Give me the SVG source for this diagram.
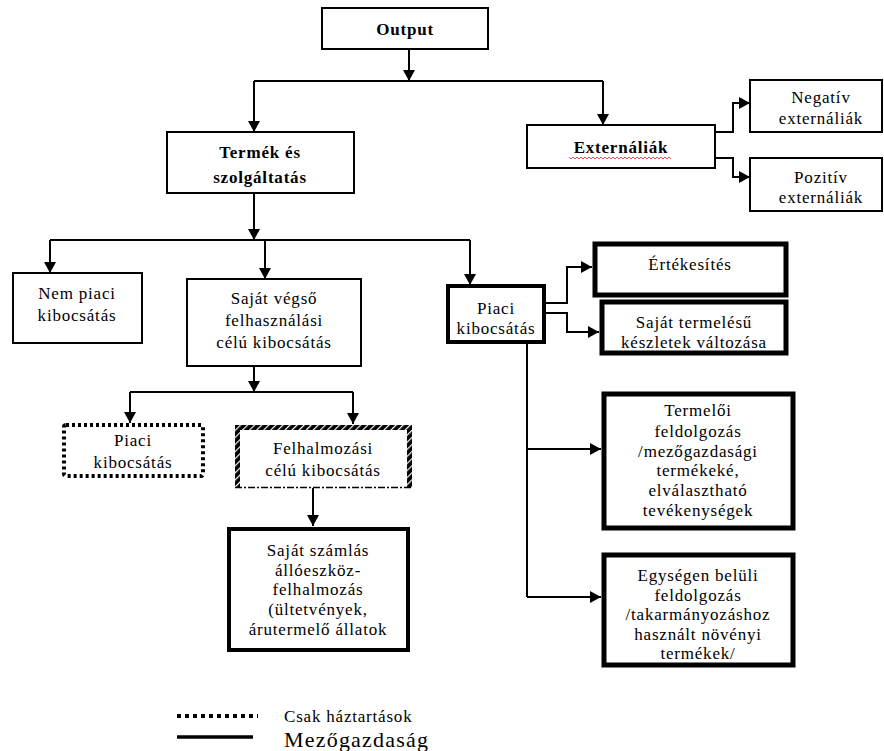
<svg xmlns="http://www.w3.org/2000/svg" width="884" height="751" viewBox="0 0 884 751">
<style>
  .box { fill: #fff; stroke: #000; stroke-width: 2; }
  .thick { fill: #fff; stroke: #000; stroke-width: 5; }
  .mid { fill: #fff; stroke: #000; stroke-width: 4; }
  .t { font-family: "Liberation Serif", "Times New Roman", serif; font-size: 17px; letter-spacing: 0.8px; fill: #000; text-anchor: middle; dominant-baseline: central; }
  .b { font-weight: bold; }
  .conn { fill: none; stroke: #000; stroke-width: 2; }
</style>
<defs>
  <marker id="arr" markerUnits="userSpaceOnUse" markerWidth="12" markerHeight="12" refX="11" refY="6" orient="auto">
    <path d="M0,0 L11,6 L0,12 z" fill="#000"/>
  </marker>
  <pattern id="hatch" patternUnits="userSpaceOnUse" width="5" height="5" patternTransform="rotate(45)">
    <rect width="5" height="5" fill="#000"/>
    <rect x="0" y="0" width="1.2" height="5" fill="#fff"/>
  </pattern>
</defs>
<rect width="884" height="751" fill="#fff"/>

<g id="connectors">
  <path class="conn" d="M409,49 V81" marker-end="url(#arr)"/>
  <path class="conn" d="M254,81 H603"/>
  <path class="conn" d="M254,81 V132" marker-end="url(#arr)"/>
  <path class="conn" d="M603,81 V125" marker-end="url(#arr)"/>
  <path class="conn" d="M715,132 H733 V103 H750" marker-end="url(#arr)"/>
  <path class="conn" d="M715,158 H733 V177 H750" marker-end="url(#arr)"/>
  <path class="conn" d="M254,193 V240" marker-end="url(#arr)"/>
  <path class="conn" d="M50,240 H470"/>
  <path class="conn" d="M50,240 V273" marker-end="url(#arr)"/>
  <path class="conn" d="M265,240 V279" marker-end="url(#arr)"/>
  <path class="conn" d="M470,240 V285" marker-end="url(#arr)"/>
  <path class="conn" d="M254,366 V392" marker-end="url(#arr)"/>
  <path class="conn" d="M130,392 H353"/>
  <path class="conn" d="M130,392 V423" marker-end="url(#arr)"/>
  <path class="conn" d="M353,392 V424" marker-end="url(#arr)"/>
  <path class="conn" d="M313,488 V526" marker-end="url(#arr)"/>
  <path class="conn" d="M545,303 H567 V267 H592" marker-end="url(#arr)"/>
  <path class="conn" d="M545,313 H567 V332 H599" marker-end="url(#arr)"/>
  <path class="conn" d="M527,343 V597"/>
  <path class="conn" d="M527,449 H601" marker-end="url(#arr)"/>
  <path class="conn" d="M527,597 H601" marker-end="url(#arr)"/>
</g>

<g id="output">
  <rect class="box" x="322" y="8" width="166" height="41"/>
  <text class="t b" x="405" y="29">Output</text>
</g>

<g id="termek">
  <rect class="box" x="167" y="132" width="187" height="61"/>
  <text class="t b" x="260" y="152">Termék és</text>
  <text class="t b" x="260" y="177">szolgáltatás</text>
</g>

<g id="externaliak">
  <rect class="box" x="527" y="125" width="188" height="43"/>
  <text class="t b" x="621" y="147">Externáliák</text>
  <path d="M569,157 l2,2 l2,-2 l2,2 l2,-2 l2,2 l2,-2 l2,2 l2,-2 l2,2 l2,-2 l2,2 l2,-2 l2,2 l2,-2 l2,2 l2,-2 l2,2 l2,-2 l2,2 l2,-2 l2,2 l2,-2 l2,2 l2,-2 l2,2 l2,-2 l2,2 l2,-2 l2,2 l2,-2 l2,2 l2,-2 l2,2 l2,-2 l2,2 l2,-2 l2,2 l2,-2 l2,2 l2,-2 l2,2 l2,-2 l2,2 l2,-2 l2,2 l2,-2 l2,2 l2,-2 l2,2 l2,-2 l2,2" fill="none" stroke="#d22" stroke-width="0.8"/>
</g>

<g id="negativ">
  <rect class="box" x="750" y="80" width="132" height="52"/>
  <text class="t" x="821" y="97">Negatív</text>
  <text class="t" x="821" y="118">externáliák</text>
</g>

<g id="pozitiv">
  <rect class="box" x="750" y="158" width="132" height="53"/>
  <text class="t" x="821" y="177">Pozitív</text>
  <text class="t" x="821" y="197">externáliák</text>
</g>

<g id="nem-piaci">
  <rect class="box" x="13" y="273" width="129" height="70"/>
  <text class="t" x="77" y="293">Nem piaci</text>
  <text class="t" x="77" y="315">kibocsátás</text>
</g>

<g id="sajat-vegso">
  <rect class="box" x="187" y="279" width="174" height="87"/>
  <text class="t" x="274" y="298">Saját végső</text>
  <text class="t" x="274" y="320">felhasználási</text>
  <text class="t" x="274" y="342">célú kibocsátás</text>
</g>

<g id="piaci-kibocsatas">
  <rect class="mid" x="448" y="286" width="96" height="56"/>
  <text class="t" x="496" y="308">Piaci</text>
  <text class="t" x="496" y="328">kibocsátás</text>
</g>

<g id="ertekesites">
  <rect class="thick" x="595" y="244" width="191" height="51"/>
  <text class="t" x="690" y="264">Értékesítés</text>
</g>

<g id="sajat-termelesu">
  <rect class="thick" x="602" y="302" width="184" height="51"/>
  <text class="t" x="694" y="322">Saját termelésű</text>
  <text class="t" x="694" y="342">készletek változása</text>
</g>

<g id="piaci-haztartas">
  <rect x="64" y="425" width="139" height="51" rx="2" fill="#fff" stroke="#000" stroke-width="4" stroke-dasharray="3 3"/>
  <text class="t" x="133" y="440">Piaci</text>
  <text class="t" x="133" y="462">kibocsátás</text>
</g>

<g id="felhalmozasi">
  <rect x="235" y="425" width="177" height="63" fill="#fff"/>
  <path d="M237.5,488 V427.5 H409.5 V488" fill="none" stroke="url(#hatch)" stroke-width="5"/>
  <path d="M235,487.5 H412" fill="none" stroke="#000" stroke-width="1.5" stroke-dasharray="7 2 2 2"/>
  <text class="t" x="323" y="448">Felhalmozási</text>
  <text class="t" x="323" y="470">célú kibocsátás</text>
</g>

<g id="sajat-szamlas">
  <rect class="mid" x="229" y="529" width="179" height="121"/>
  <text class="t" x="318" y="550">Saját számlás</text>
  <text class="t" x="318" y="570">állóeszköz-</text>
  <text class="t" x="318" y="589">felhalmozás</text>
  <text class="t" x="318" y="609">(ültetvények,</text>
  <text class="t" x="318" y="629">árutermelő állatok</text>
</g>

<g id="termeloi">
  <rect class="thick" x="604" y="394" width="189" height="134"/>
  <text class="t" x="698" y="410">Termelői</text>
  <text class="t" x="698" y="431">feldolgozás</text>
  <text class="t" x="698" y="451">/mezőgazdasági</text>
  <text class="t" x="698" y="470">termékeké,</text>
  <text class="t" x="698" y="490">elválasztható</text>
  <text class="t" x="698" y="510">tevékenységek</text>
</g>

<g id="egysegen">
  <rect class="thick" x="604" y="555" width="189" height="110"/>
  <text class="t" x="698" y="575">Egységen belüli</text>
  <text class="t" x="698" y="595">feldolgozás</text>
  <text class="t" x="698" y="614">/takarmányozáshoz</text>
  <text class="t" x="698" y="634">használt növényi</text>
  <text class="t" x="698" y="653">termékek/</text>
</g>

<g id="legend">
  <path d="M177,716 H258" fill="none" stroke="#000" stroke-width="4" stroke-dasharray="4 4"/>
  <text class="t" x="284" y="716" style="text-anchor:start">Csak háztartások</text>
  <path d="M177,737 H253" fill="none" stroke="#000" stroke-width="3.5"/>
  <text class="t" x="284" y="739" style="text-anchor:start;font-size:22px;letter-spacing:1.2px">Mezőgazdaság</text>
</g>
</svg>
